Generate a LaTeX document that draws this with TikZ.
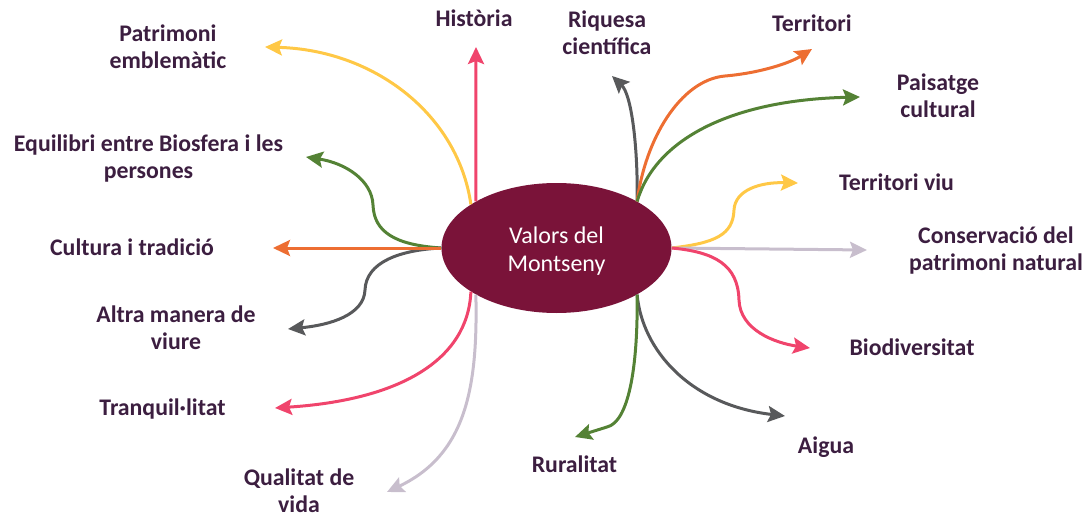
\documentclass[tikz,border=0pt]{standalone}
\usepackage{fontspec}
\setmainfont{Carlito}
\usetikzlibrary{arrows.meta,shapes.geometric}
\definecolor{cmaroon}{RGB}{122,19,57}
\definecolor{ctext}{RGB}{60,30,64}
\definecolor{cyellow}{RGB}{255,200,70}
\definecolor{cpink}{RGB}{240,68,108}
\definecolor{cgreen}{RGB}{84,130,53}
\definecolor{corange}{RGB}{237,110,50}
\definecolor{cdgray}{RGB}{88,89,91}
\definecolor{clgray}{RGB}{200,190,205}
\newcommand\lbltwo[2]{\begin{tabular}[t]{@{}c@{}}#1\\#2\end{tabular}}
\tikzset{
  conn/.style={line width=3pt, -{Stealth[length=17pt,width=16pt,inset=3pt]}},
  lbl/.style={font=\bfseries\fontsize{23.8}{27}\selectfont, text=ctext, inner sep=0pt, anchor=base},
  hub/.style={ellipse, fill=cmaroon, minimum width=230pt, minimum height=130pt, inner sep=0pt,
    text=white, font=\fontsize{24}{28}\selectfont, text height=20pt, text depth=30pt}
}
\begin{document}
\begin{tikzpicture}[x=1pt,y=-1pt]
\useasboundingbox (0,0) rectangle (1087,516);
\node[hub] (c) at (556.5,248) {\begin{tabular}[t]{@{}c@{}}Valors del\\Montseny\end{tabular}};

% labels
\node[lbl] (l1) at (168,42) {\lbltwo{Patrimoni}{emblemàtic}};
\node[lbl] (l2) at (474,27) {Història};
\node[lbl] (l3) at (607,28) {\lbltwo{Riquesa}{científica}};
\node[lbl] (l4) at (812,32) {Territori};
\node[lbl] (l5) at (938,91) {\lbltwo{Paisatge}{cultural}};
\node[lbl] (l6) at (148.5,152) {\lbltwo{Equilibri entre Biosfera i les}{persones}};
\node[lbl] (l7) at (896.5,190) {Territori viu};
\node[lbl] (l8) at (132,255) {Cultura i tradició};
\node[lbl] (l9) at (996,243) {\lbltwo{Conservació del}{patrimoni natural}};
\node[lbl] (l10) at (176,322) {\lbltwo{Altra manera de}{viure}};
\node[lbl] (l11) at (912,355) {Biodiversitat};
\node[lbl] (l12) at (162.5,415) {Tranquil·litat};
\node[lbl] (l13) at (826,453) {Aigua};
\node[lbl] (l14) at (574.5,472) {Ruralitat};
\node[lbl] (l15) at (299,485) {\lbltwo{Qualitat de}{vida}};

% arrow tips
\coordinate (t1) at (265,47);
\coordinate (t2) at (476,47);
\coordinate (t3) at (612,76);
\coordinate (t4) at (812,49);
\coordinate (t5) at (860,97);
\coordinate (t6) at (798,183);
\coordinate (t7) at (867,250);
\coordinate (t8) at (810,348);
\coordinate (t9) at (785,416);
\coordinate (t10) at (575,437);
\coordinate (t11) at (387,492);
\coordinate (t12) at (275,408);
\coordinate (t13) at (288,329);
\coordinate (t14) at (273,248);
\coordinate (t15) at (306,157);

% connectors
\draw[conn, cyellow] (c.153) .. controls (458,115) and (375,50) .. (t1);
\draw[conn, cpink] (c.150) -- (t2);
\draw[conn, cdgray] (c.30) .. controls (638,150) and (632,95) .. (t3);
\draw[conn, corange] (c.30) .. controls (645,140) and (680,80) .. (725,76) .. controls (760,73) and (790,63) .. (t4);
\draw[conn, cgreen] (c.30) .. controls (655,140) and (730,100) .. (t5);
\draw[conn, cyellow] (c.0) .. controls (715,243) and (733,235) .. (734,210) .. controls (735,190) and (760,182) .. (t6);
\draw[conn, clgray] (c.0) -- (t7);
\draw[conn, cpink] (c.0) .. controls (715,252) and (738,265) .. (739,300) .. controls (740,330) and (775,343) .. (t8);
\draw[conn, cdgray] (c.330) .. controls (642,350) and (690,405) .. (t9);
\draw[conn, cgreen] (c.330) .. controls (638,370) and (628,422) .. (607,427) -- (t10);
\draw[conn, clgray] (c.210) .. controls (478,390) and (465,455) .. (t11);
\draw[conn, cpink] (c.207) .. controls (468,360) and (400,400) .. (t12);
\draw[conn, cgreen] (c.180) .. controls (395,245) and (374,232) .. (373,205) .. controls (372,180) and (345,163) .. (t15);
\draw[conn, cdgray] (c.180) .. controls (400,250) and (366,262) .. (365,290) .. controls (364,315) and (330,325) .. (t13);
\draw[conn, corange] (c.180) -- (t14);
\end{tikzpicture}
\end{document}
